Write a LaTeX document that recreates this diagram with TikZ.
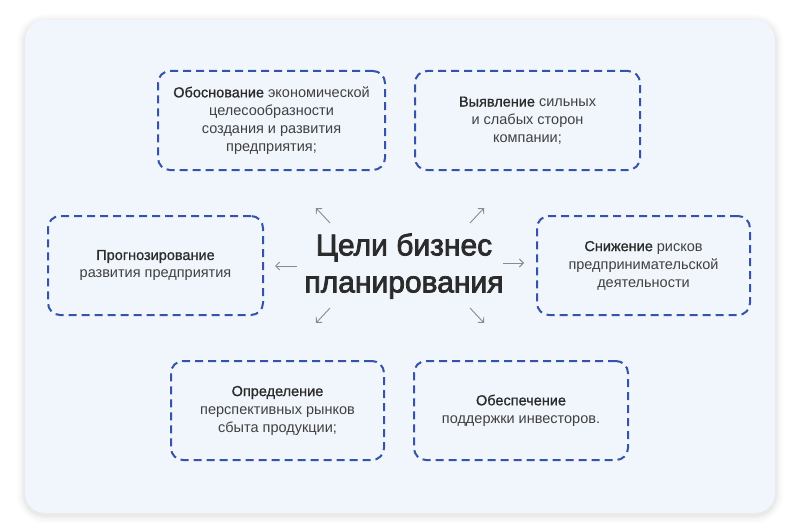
\documentclass[tikz,border=0pt]{standalone}
\usepackage{fontspec}
\setmainfont{Liberation Sans}
\newfontfamily\medfont[FakeBold=2.6]{Liberation Sans}
\newfontfamily\semifont[FakeBold=0.9]{Liberation Sans}
\usetikzlibrary{arrows.meta}
\definecolor{panelfill}{HTML}{F1F6FD}
\definecolor{boxblue}{HTML}{3553A8}
\definecolor{txtdark}{HTML}{2B2B2B}
\definecolor{txtreg}{HTML}{404040}
\definecolor{arrowgray}{HTML}{8A8A8A}
\tikzset{
  goalbox/.style={draw=boxblue, line width=2pt, dash pattern=on 8pt off 5pt,
    rounded corners=12pt, align=center, inner sep=0pt, text=txtreg,
    font=\fontsize{14.5}{18}\selectfont},
  title/.style={align=center, text=txtdark, font=\medfont\fontsize{30}{37}\selectfont},
  smallarrow/.style={draw=arrowgray, line width=0.9pt, -{Straight Barb[length=4pt,width=8pt]}},
}
\newcommand{\hl}[1]{{\semifont\color{txtdark}#1}}
\begin{document}
\begin{tikzpicture}[x=1pt,y=-1pt]
\useasboundingbox (0,0) rectangle (800,532);
\fill[white] (0,0) rectangle (800,532);
% shadow
\foreach \d/\o in {8/0.012,6/0.016,4/0.022,2/0.03}{
  \fill[black,opacity=\o,rounded corners={20pt+\d pt}] (25-\d,22-\d) rectangle (775+\d,515+\d);
}
\fill[panelfill,rounded corners=20pt] (25,20) rectangle (775,513);

\node[goalbox, minimum width=227pt, minimum height=99pt] (b1) at (271.5,120.5)
  {\hl{Обоснование} экономической\\целесообразности\\создания и развития\\предприятия;};
\node[goalbox, minimum width=225pt, minimum height=99pt] (b2) at (527.5,120.5)
  {\hl{Выявление} сильных\\и слабых сторон\\компании;};
\node[goalbox, minimum width=215pt, minimum height=99pt] (b3) at (155.5,265.5)
  {\hl{Прогнозирование}\\развития предприятия};
\node[goalbox, minimum width=213pt, minimum height=99pt] (b4) at (643.5,265.5)
  {\hl{Снижение} рисков\\предпринимательской\\деятельности};
\node[goalbox, minimum width=213pt, minimum height=99pt] (b5) at (277.5,410.5)
  {\hl{Определение}\\перспективных рынков\\сбыта продукции;};
\node[goalbox, minimum width=214pt, minimum height=99pt] (b6) at (521,410.5)
  {\hl{Обеспечение}\\поддержки инвесторов.};

\node[title] (c) at (404,266) {Цели бизнес\\планирования};

\coordinate (ulS) at (330,223); \coordinate (ulE) at (316,208);
\coordinate (urS) at (470,223); \coordinate (urE) at (484,208);
\coordinate (lS) at (297,266);  \coordinate (lE) at (275,266);
\coordinate (rS) at (503,263);  \coordinate (rE) at (524,263);
\coordinate (dlS) at (330,308); \coordinate (dlE) at (316,323);
\coordinate (drS) at (470,308); \coordinate (drE) at (484,323);
\draw[smallarrow] (ulS) -- (ulE);
\draw[smallarrow] (urS) -- (urE);
\draw[smallarrow] (lS) -- (lE);
\draw[smallarrow] (rS) -- (rE);
\draw[smallarrow] (dlS) -- (dlE);
\draw[smallarrow] (drS) -- (drE);
\end{tikzpicture}
\end{document}
